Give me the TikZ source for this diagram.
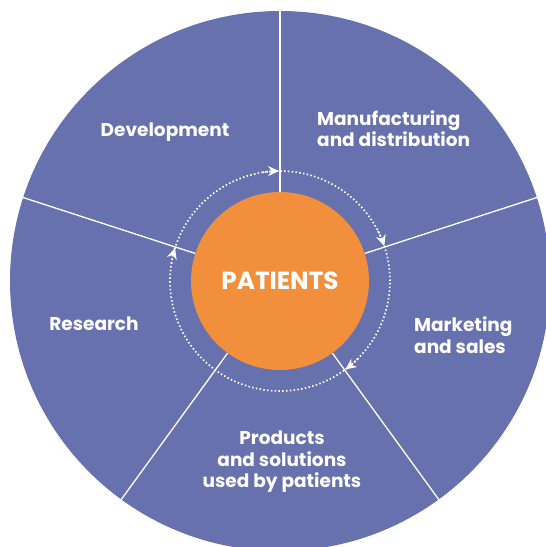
\documentclass[tikz,border=0pt]{standalone}
\usepackage{fontspec}
\setmainfont{Poppins}
\usetikzlibrary{arrows.meta}
\definecolor{wheel}{RGB}{102,113,173}
\definecolor{patient}{RGB}{241,143,61}
\tikzset{
  label/.style={text=white,font=\bfseries\fontsize{18.5}{21.6}\selectfont,align=center,inner sep=0pt},
  divider/.style={white,line width=1.3pt},
  cycle/.style={white,line width=1.7pt,dash pattern=on 1.5pt off 2.3pt},
  cycletip/.style={cycle,-{Stealth[length=11pt,width=10pt]}}
}
\begin{document}
\begin{tikzpicture}[x=1pt,y=1pt]
                \useasboundingbox (-280,-266) rectangle (266,281);
                \clip (-280,-266) rectangle (266,281);
                \fill[wheel] (0,0) circle [radius=270];
                \foreach \a in {90,18,-54,-126,162}
                  \draw[divider] (\a:89) -- (\a:271);
                \draw[cycle] (0,0) circle [radius=110];
                \foreach \a in {90,18,-54,162}
                  \draw[cycletip] (\a+9:110) arc [start angle=\a+9,end angle=\a+0.5,radius=110];
                \fill[patient] (0,0) circle [radius=89];
                \node[text=white,font=\bfseries\fontsize{24.7}{30}\selectfont] (patients) at (0,0) {PATIENTS};

                \node[label] (development) at (-115,149) {Development};
                \node[label,anchor=west,align=left] (manufacturing) at (37,152.5) {Manufacturing\\and distribution};
                \node[label,anchor=west,align=left] (marketing) at (134,-54) {Marketing\\and sales};
                \node[label] (products) at (2,-180.7) {Products\\and solutions\\used by patients};
                \node[label] (research) at (-186,-43) {Research};
            \end{tikzpicture}
\end{document}
